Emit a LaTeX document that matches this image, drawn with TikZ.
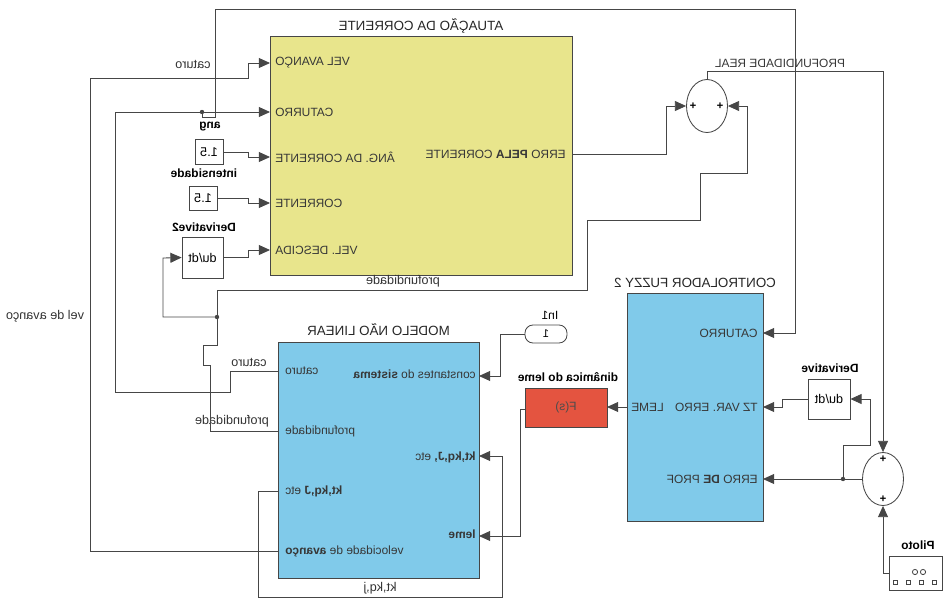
\documentclass[tikz,border=0pt]{standalone}
\usepackage{fontspec}
\setmainfont{Liberation Sans}
\usetikzlibrary{arrows.meta,positioning,shapes.geometric}

\definecolor{amarelo}{RGB}{232,229,140}
\definecolor{azul}{RGB}{128,202,234}
\definecolor{vermelho}{RGB}{228,84,64}
\definecolor{cfio}{RGB}{70,70,70}
\definecolor{ctxt}{RGB}{55,55,55}

\begin{document}
\begin{tikzpicture}[
  x=-0.25mm, y=-0.25mm, xscale=-1, transform shape,
  blk/.style={rectangle, draw=cfio, line width=0.6pt, inner sep=0pt},
  soma/.style={ellipse, draw=cfio, line width=0.6pt, fill=white, minimum width=10.25mm, minimum height=13.25mm, inner sep=0pt},
  tit/.style={font=\fontsize{9.5}{11}\selectfont, text=black!85, inner sep=0pt},
  prt/.style={font=\fontsize{8.5}{10}\selectfont, text=ctxt, inner sep=0pt},
  sig/.style={font=\fontsize{9}{10}\selectfont, text=black!80, inner sep=0pt},
  nome/.style={font=\bfseries\fontsize{8.5}{10}\selectfont, inner sep=0pt},
  wire/.style={draw=cfio, line width=0.6pt},
  sgn/.style={wire, -{Triangle[length=2.8mm,width=2.5mm]}},
  junc/.style={circle, fill=cfio, inner sep=0pt, minimum size=1.1mm}
]
\useasboundingbox (0,0) rectangle (943,600);

% blocos principais
\node[blk, fill=amarelo, minimum width=75.5mm, minimum height=59.75mm] at (421,155.5) (atu) {};
\node[tit, above=0.4mm of atu] (t-atu) {ATUAÇÃO DA CORRENTE};
\node[blk, fill=azul, minimum width=34mm, minimum height=57mm] at (695,407) (ctl) {};
\node[tit, above=1.2mm of ctl] (t-ctl) {CONTROLADOR FUZZY 2};
\node[blk, fill=azul, minimum width=50.25mm, minimum height=59mm] at (378.5,460) (modelo) {};
\node[tit, above=1.3mm of modelo] (t-mod) {MODELO NÃO LINEAR};
\node[blk, fill=vermelho, minimum width=20.5mm, minimum height=9.75mm, font=\fontsize{8.5}{10}\selectfont, text=black!70] at (566,407.5) (fs) {F(s)};

% blocos pequenos
\node[blk, minimum width=7mm, minimum height=6.25mm, font=\fontsize{9}{10}\selectfont] at (209,152) (ang) {1.5};
\node[blk, minimum width=7mm, minimum height=6mm, font=\fontsize{9}{10}\selectfont] at (203,198) (intens) {1.5};
\node[blk, minimum width=10.25mm, minimum height=10.25mm, font=\fontsize{9}{10}\selectfont] at (202.5,257.5) (der2) {du/dt};
\node[blk, minimum width=10.5mm, minimum height=10mm, font=\fontsize{9}{10}\selectfont] at (829,399) (der) {du/dt};
\node[blk, rounded corners=2mm, minimum width=10.5mm, minimum height=4.5mm, font=\fontsize{8}{9}\selectfont] at (546,334) (in1) {1};
\node[blk, minimum width=13.25mm, minimum height=8.5mm] at (915.5,573) (piloto) {};
\node[soma] at (707,106) (soma1) {};
\node[soma] at (883,479) (soma2) {};

% nomes dos blocos
\node[nome] at (210,127) (n-ang) {ang};
\node[nome] at (204,173) (n-int) {intensidade};
\node[nome] at (204,227) (n-der2) {Derivative2};
\node[nome] at (830,368) (n-der) {Derivative};
\node[nome] at (918,545) (n-pil) {Piloto};
\node[nome, font=\fontsize{8.5}{10}\selectfont] at (550,315) (n-in1) {In1};
\node[nome] at (568,377) (n-fs) {dinâmica do leme};

% sinais de soma e icone do piloto
\foreach \p/\q in {693/106, 720/106, 883/459, 883/499}
  \node[font=\fontsize{8}{9}\selectfont\bfseries, inner sep=0pt] at (\p,\q) {+};
\foreach \p in {915,923}
  \draw[wire] (\p,572) circle (2.6);
\foreach \p in {895,908,921,934}
  \draw[wire] (\p-2,580) rectangle (\p+2,584);

% portas
\coordinate (at-vel) at (270,63);
\coordinate (at-cat) at (270,112);
\coordinate (at-ang) at (270,157);
\coordinate (at-cor) at (270,203);
\coordinate (at-des) at (270,250);
\coordinate (at-err) at (572,154);
\coordinate (ct-cat) at (763,333);
\coordinate (ct-tz) at (763,407);
\coordinate (ct-erro) at (763,479);
\coordinate (ct-leme) at (627,407);
\coordinate (fs-in) at (607,407);
\coordinate (fs-out) at (525,409);
\coordinate (mo-cat) at (278,371);
\coordinate (mo-prof) at (278,431);
\coordinate (mo-kt) at (278,491);
\coordinate (mo-vel) at (278,551);
\coordinate (mo-const) at (479,376);
\coordinate (mo-kt2) at (479,456);
\coordinate (mo-leme) at (479,536);

% textos das portas
\node[prt, anchor=east] at (275,63) {VEL AVANÇO};
\node[prt, anchor=east] at (275,112) {CATURRO};
\node[prt, anchor=east] at (275,157) {ÂNG. DA CORRENTE};
\node[prt, anchor=east] at (275,203) {CORRENTE};
\node[prt, anchor=east] at (275,250) {VEL. DESCIDA};
\node[prt, anchor=west] at (566,154) {ERRO \textbf{PELA} CORRENTE};
\node[prt, anchor=west] at (758,333) {CATURRO};
\node[prt, anchor=west] at (758,407) {TZ VAR. ERRO};
\node[prt, anchor=west] at (758,479) {ERRO \textbf{DE} PROF};
\node[prt, anchor=east] at (631,407) {LEME};
\node[prt, anchor=east] at (285,371) {caturo};
\node[prt, anchor=east] at (285,431) {profundidade};
\node[prt, anchor=east] at (285,491) {\textbf{kt,kq,J} etc};
\node[prt, anchor=east] at (285,551) {velocidade de \textbf{avanço}};
\node[prt, anchor=west] at (476,374) {constantes do \textbf{sistema}};
\node[prt, anchor=west] at (476,457) {\textbf{kt,kq,J,} etc};
\node[prt, anchor=west] at (476,534) {\textbf{leme}};

% rotulos dos sinais
\node[sig] at (193,64) (s-cat1) {caturo};
\node[sig] at (45,316) (s-vel) {vel de avanço};
\node[sig] at (249,362) (s-cat2) {caturo};
\node[sig] at (232,421) (s-prof1) {profundidade};
\node[sig] at (403,281) (s-prof2) {profundidade};
\node[prt] at (780,63) (s-real) {PROFUNDIDADE REAL};
\node[sig] at (380,588) (s-kt) {kt,kq,j};

% ligacoes
\draw[sgn] (mo-vel) -| (90,78) -| (248,63) -- (at-vel);
\draw[sgn] (mo-cat) -| (230,392) -| (115,112) -- (at-cat);
\coordinate (rm-cat) at (202,112);
\draw[sgn] (rm-cat) |- (215,117) -- (215,9) -| (795,333) -- (ct-cat);
\draw[sgn] (ang.west) -| (248,157) -- (at-ang);
\draw[sgn] (intens.west) -| (248,203) -- (at-cor);
\draw[sgn] (der2.west) -| (248,250) -- (at-des);
\draw[sgn] (mo-prof) -| (210,365) -| (203,345) -| (217,290) -| (587,220) -| (700,173) -| (747,106) -- (soma1.west);
\coordinate (rm-prof) at (217,317);
\draw[sgn] (rm-prof) -| (163,258) -- (der2.east);
\draw[sgn] (at-err) -| (666,106) -- (soma1.east);
\draw[sgn] (soma1.north) |- (883,71) -- (soma2.north);
\draw[sgn] (piloto.east) -| (soma2.south);
\draw[sgn] (soma2.east) -- (ct-erro);
\coordinate (rm-erro) at (843,479);
\draw[sgn] (rm-erro) |- (870,445) |- (der.west);
\draw[sgn] (der.east) -| (782,407) -- (ct-tz);
\draw[sgn] (ct-leme) -- (fs-in);
\draw[sgn] (fs-out) -| (520,536) -- (mo-leme);
\draw[sgn] (in1.east) -| (500,376) -- (mo-const);
\draw[sgn] (mo-kt) -| (258,597) -| (502,456) -- (mo-kt2);
\foreach \r in {rm-cat, rm-prof, rm-erro}
  \node[junc] at (\r) {};
\end{tikzpicture}
\end{document}
